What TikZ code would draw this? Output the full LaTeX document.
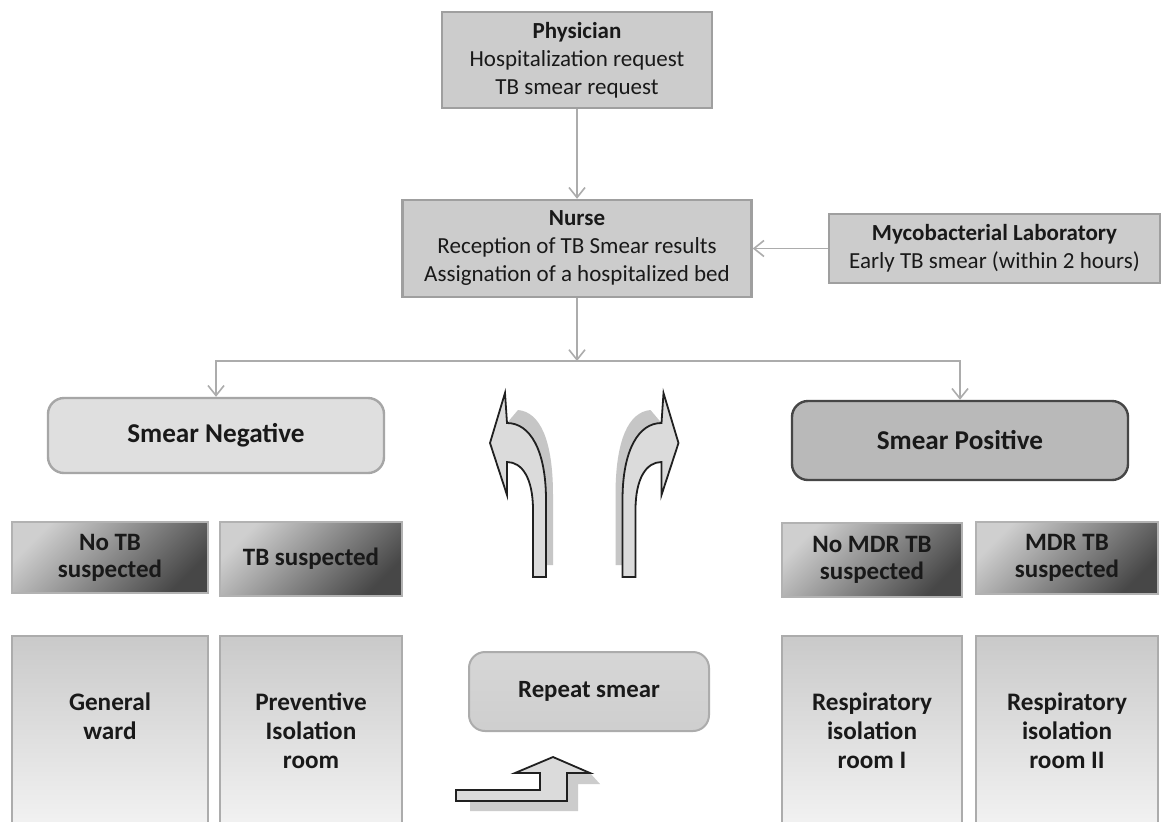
\documentclass[tikz,border=0pt]{standalone}
\usepackage{fontspec}
\setmainfont{Carlito}
\usetikzlibrary{arrows.meta}

\tikzset{
  head/.style={draw=gray!75, line width=1.2pt, fill=gray!40, align=center,
    text=black!90, font=\fontsize{11.5}{14}\selectfont},
  sbox/.style={draw=gray!70, line width=1.2pt, rounded corners=8pt, align=center,
    text=black!90, font=\bfseries\fontsize{13.6}{16}\selectfont},
  shbox/.style={draw=gray!60, line width=1pt, top color=gray!38, bottom color=black!72,
    shading angle=45, align=center, text=black!90,
    font=\bfseries\fontsize{12.5}{13.5}\selectfont},
  room/.style={draw=gray!65, line width=1pt, top color=gray!42, bottom color=gray!10,
    align=center, text=black!90, minimum height=95pt,
    font=\bfseries\fontsize{12.6}{14.5}\selectfont},
  rep/.style={draw=gray!65, line width=1pt, rounded corners=8pt, top color=gray!32,
    middle color=white, bottom color=gray!38, text=black!90,
    font=\bfseries\fontsize{12.4}{14}\selectfont},
  conn/.style={draw=gray!65, line width=0.8pt, -{Straight Barb[length=5pt,width=8pt]}},
  bent/.style={draw=gray!25!black, line width=0.9pt, fill=gray!28, line join=miter}
}

\begin{document}
\begin{tikzpicture}[x=0.5pt,y=-0.5pt]
  \clip (0,0) rectangle (1173,821);
  \fill[white] (0,0) rectangle (1173,821);

  \node[head, minimum width=135pt, minimum height=48pt] (phys) at (577,60)
    {\textbf{Physician}\\Hospitalization request\\TB smear request};
  \node[head, minimum width=174.5pt, minimum height=48.5pt] (nurse) at (577,248.5)
    {\textbf{Nurse}\\Reception of TB Smear results\\Assignation of a hospitalized bed};
  \node[head, minimum width=165.5pt, minimum height=34.5pt] (lab) at (994.5,248.5)
    {\textbf{Mycobacterial Laboratory}\\Early TB smear (within 2 hours)};
  \coordinate (split) at (577,361);

  \node[sbox, fill=gray!25, minimum width=168pt, minimum height=37.5pt] (neg)
    at (216,435.5) {Smear Negative};
  \node[sbox, fill=gray!55, draw=gray!55!black, minimum width=168pt,
    minimum height=39.5pt] (pos) at (960,440.5) {Smear Positive};

  \draw[conn] (phys) -- (nurse);
  \draw[conn] (lab) -- (nurse);
  \draw[conn] (nurse) -- (split);
  \draw[conn] (split) -| (neg);
  \draw[conn] (split) -| (pos);

  \node[shbox, minimum width=98pt, minimum height=35.5pt] (notb) at (110,557.5)
    {No TB\\suspected};
  \node[shbox, minimum width=91pt, minimum height=37pt] (tbsus) at (311,559)
    {TB suspected};
  \node[shbox, minimum width=90pt, minimum height=37pt] (nomdr) at (872,560)
    {No MDR TB\\suspected};
  \node[shbox, minimum width=91pt, minimum height=36pt] (mdr) at (1067,558)
    {MDR TB\\suspected};

  \node[room, minimum width=98pt] (gen) at (110,731) {General\\ward\\\mbox{}};
  \node[room, minimum width=91pt] (prev) at (311,731) {Preventive\\Isolation\\room};
  \node[room, minimum width=90pt] (resp1) at (872,731) {Respiratory\\isolation\\room I};
  \node[room, minimum width=91pt] (resp2) at (1067,731) {Respiratory\\isolation\\room II};

  \node[rep, minimum width=120pt, minimum height=39.5pt] (rep) at (589,691.5)
    {Repeat smear};

  % curved arrows, the second one mirrored
  \foreach \s in {1,-1} {
    \begin{scope}[xshift={(1-\s)*292.125pt}, xscale=\s]
      \fill[gray!45] (518,410) .. controls (540,412) and (553,440) .. (553,495)
        -- (553,565) -- (546,565) -- (546,500)
        .. controls (546,450) and (530,423) .. (507,423) -- cycle;
      \draw[bent] (533,577) -- (533,510) .. controls (533,478) and (522,462) .. (507,462)
        -- (507,495) -- (490,443) -- (505,393) -- (507,423)
        .. controls (530,423) and (546,450) .. (546,500) -- (546,577) -- cycle;
    \end{scope}
  }

  \fill[gray!40] (470,801) -- (470,811) -- (578,811) -- (578,784) -- (600,784)
    -- (590,773) -- (567,773) -- (567,801) -- cycle;
  \draw[bent] (456,790) -- (540,790) -- (540,773) -- (515,773) -- (553,757)
    -- (590,773) -- (567,773) -- (567,801) -- (456,801) -- cycle;
\end{tikzpicture}
\end{document}
